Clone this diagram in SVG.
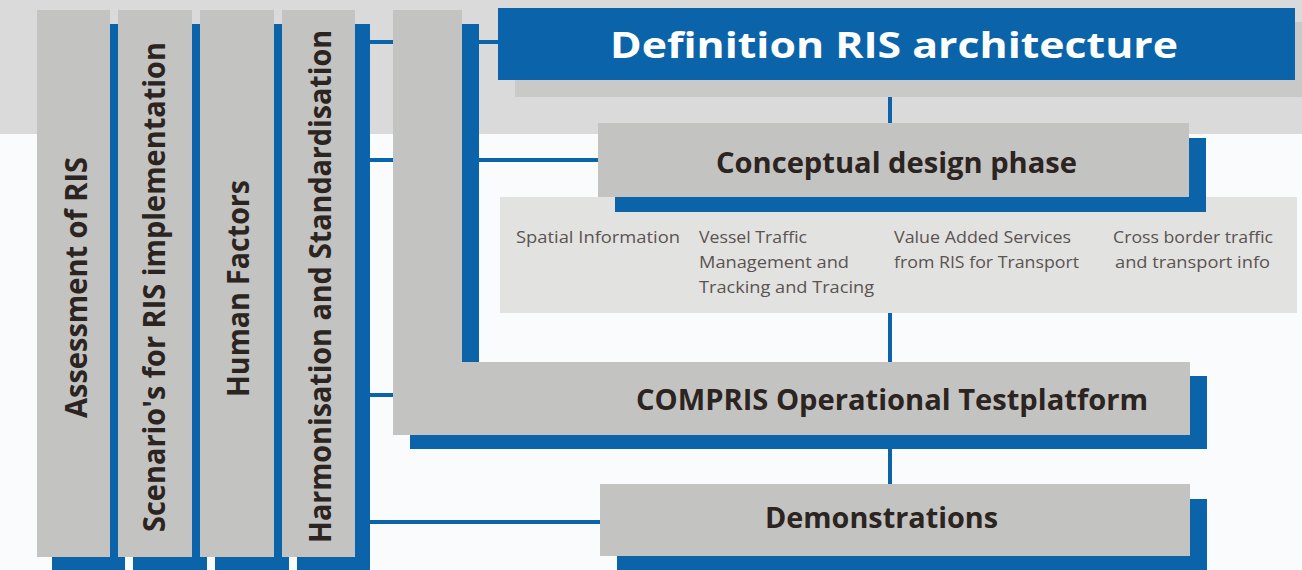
<svg xmlns="http://www.w3.org/2000/svg" width="1302" height="570" viewBox="0 0 1302 570">
  <style>
    .blue { fill: #0b64a9; }
    .node { fill: #c3c3c1; }
    .sub { fill: #e2e2e1; }
    .line { stroke: #0b64a9; stroke-width: 4; fill: none; }
    .title { font-family: "Open Sans", "Liberation Sans", sans-serif; font-weight: 700; fill: #2b2421; }
    .col { font-family: "Open Sans", "Liberation Sans", sans-serif; font-weight: 700; font-size: 30px; fill: #2b2421; text-anchor: middle; }
    .small { font-family: "Open Sans", "Liberation Sans", sans-serif; font-weight: 500; font-size: 16px; fill: #5a5350; }
  </style>

  <!-- background: grey band at the top, white below -->
  <rect x="0" y="0" width="1302" height="570" fill="#f9fbfc"/>
  <rect x="0" y="0" width="1302" height="134" fill="#dadada"/>

  <!-- vertical work packages -->
  <g id="assessment">
    <rect class="blue" x="52" y="24" width="73" height="560"/>
    <rect class="node" x="37" y="10" width="73" height="547"/>
    <text class="col" transform="translate(87,287.5) rotate(-90)" textLength="261" lengthAdjust="spacingAndGlyphs">Assessment of RIS</text>
  </g>
  <g id="scenarios">
    <rect class="blue" x="133" y="24" width="74" height="560"/>
    <rect class="node" x="118" y="10" width="74" height="547"/>
    <text class="col" transform="translate(165,287) rotate(-90)" textLength="490" lengthAdjust="spacingAndGlyphs">Scenario's for RIS implementation</text>
  </g>
  <g id="human-factors">
    <rect class="blue" x="215" y="24" width="74" height="560"/>
    <rect class="node" x="200" y="10" width="74" height="547"/>
    <text class="col" transform="translate(249,288.5) rotate(-90)" textLength="217" lengthAdjust="spacingAndGlyphs">Human Factors</text>
  </g>
  <g id="harmonisation">
    <rect class="blue" x="297" y="24" width="73" height="560"/>
    <rect class="node" x="282" y="10" width="73" height="547"/>
    <text class="col" transform="translate(331,286.5) rotate(-90)" textLength="513" lengthAdjust="spacingAndGlyphs">Harmonisation and Standardisation</text>
  </g>

  <!-- connectors -->
  <g id="connectors">
    <line class="line" x1="370" y1="42" x2="393" y2="42"/>
    <line class="line" x1="478" y1="42" x2="500" y2="42"/>
    <line class="line" x1="370" y1="160" x2="393" y2="160"/>
    <line class="line" x1="478" y1="160" x2="600" y2="160"/>
    <line class="line" x1="370" y1="395" x2="395" y2="395"/>
    <line class="line" x1="370" y1="522" x2="602" y2="522"/>
    <line class="line" x1="890" y1="80" x2="890" y2="125"/>
    <line class="line" x1="890" y1="311" x2="890" y2="364"/>
    <line class="line" x1="890" y1="447" x2="890" y2="486"/>
  </g>

  <!-- L-shaped test platform -->
  <g id="testplatform">
    <path class="blue" d="M410,24 H479 V376 H1207 V449 H410 Z"/>
    <path class="node" d="M393,10 H462 V362 H1190 V435 H393 Z"/>
    <text class="title" x="636" y="410" font-size="28" textLength="512" lengthAdjust="spacingAndGlyphs">COMPRIS Operational Testplatform</text>
  </g>

  <g id="definition">
    <rect x="515" y="22" width="797" height="75" fill="#c9c9c8"/>
    <rect class="blue" x="498" y="8" width="797" height="72"/>
    <text class="title" x="610" y="58" font-size="35" style="fill:#ffffff" textLength="568" lengthAdjust="spacingAndGlyphs">Definition RIS architecture</text>
  </g>

  <g id="topics">
    <rect class="sub" x="500" y="197" width="797" height="116"/>
    <text class="small" x="516" y="243" textLength="164" lengthAdjust="spacingAndGlyphs">Spatial Information</text>
    <text class="small" x="699" y="243" textLength="108" lengthAdjust="spacingAndGlyphs">Vessel Traffic</text>
    <text class="small" x="699" y="268" textLength="150" lengthAdjust="spacingAndGlyphs">Management and</text>
    <text class="small" x="699" y="293" textLength="175" lengthAdjust="spacingAndGlyphs">Tracking and Tracing</text>
    <text class="small" x="894" y="243" textLength="177" lengthAdjust="spacingAndGlyphs">Value Added Services</text>
    <text class="small" x="894" y="268" textLength="185" lengthAdjust="spacingAndGlyphs">from RIS for Transport</text>
    <text class="small" x="1113" y="243" textLength="160" lengthAdjust="spacingAndGlyphs">Cross border traffic</text>
    <text class="small" x="1115" y="268" textLength="155" lengthAdjust="spacingAndGlyphs">and transport info</text>
  </g>

  <g id="conceptual">
    <rect class="blue" x="615" y="138" width="591" height="74"/>
    <rect class="node" x="598" y="123" width="591" height="74"/>
    <text class="title" x="716" y="173" font-size="28" textLength="361" lengthAdjust="spacingAndGlyphs">Conceptual design phase</text>
  </g>

  <g id="demonstrations">
    <rect class="blue" x="617" y="499" width="590" height="80"/>
    <rect class="node" x="600" y="484" width="590" height="72"/>
    <text class="title" x="765" y="528" font-size="28" textLength="233" lengthAdjust="spacingAndGlyphs">Demonstrations</text>
  </g>
</svg>
